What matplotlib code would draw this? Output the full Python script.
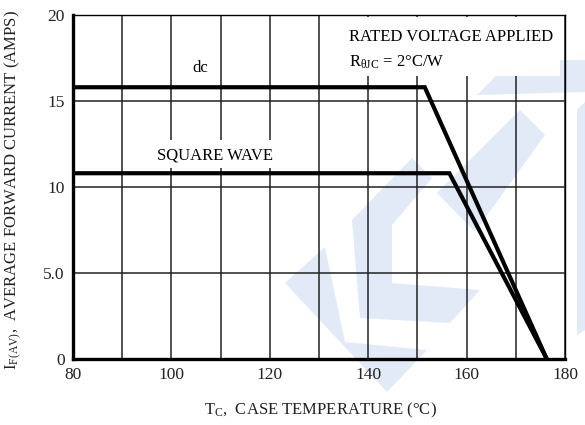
import matplotlib
matplotlib.use("Agg")
import matplotlib.pyplot as plt
from matplotlib.patches import Polygon, Rectangle

# ---- data ----
dc_temp = [80, 151.5, 176.3]
dc_current = [15.8, 15.8, 0]
sq_temp = [80, 156.5, 176.3]
sq_current = [10.8, 10.8, 0]
x_ticks = [80, 100, 120, 140, 160, 180]
y_ticks = [0, 5, 10, 15, 20]
y_tick_labels = ["0", "5.0", "10", "15", "20"]

FONT = "Liberation Serif"
plt.rcParams["font.family"] = [FONT, "DejaVu Serif"]
plt.rcParams["mathtext.fontset"] = "custom"
plt.rcParams["mathtext.rm"] = FONT
plt.rcParams["mathtext.it"] = FONT
plt.rcParams["mathtext.default"] = "rm"

W, H = 585, 425
fig = plt.figure(figsize=(W / 100, H / 100), dpi=100)
fig.patch.set_facecolor("white")

# watermark (figure pixel coords, y from top)
wm = [
    [(285, 283), (325, 247), (345, 342), (427, 350), (387, 392)],
    [(352, 220), (412, 158), (432, 178), (392, 225), (392, 283), (480, 290), (450, 323), (360, 318)],
    [(437, 193), (520, 110), (545, 135), (475, 232)],
    [(477, 95), (512, 60), (585, 60), (585, 92)],
    [(577, 110), (585, 102), (585, 330), (577, 335)],
]
for poly in wm:
    pts = [(x / W, 1 - y / H) for x, y in poly]
    fig.patches.append(Polygon(pts, closed=True, transform=fig.transFigure,
                               facecolor="#e3eaf7", edgecolor="none", zorder=-1))

ax = fig.add_axes([73 / W, 1 - 359 / H, (565 - 73) / W, (359 - 15) / H])
ax.set_facecolor("none")
ax.set_xlim(80, 180)
ax.set_ylim(0, 20)

for x in range(80, 181, 10):
    ax.axvline(x, color="#222222", lw=1.1, zorder=1)
for y in y_ticks:
    ax.axhline(y, color="#222222", lw=1.1, zorder=1)

# white label boxes
ax.add_patch(Rectangle((131.2, 16.45), 179.0 - 131.2, 19.88 - 16.45,
                       facecolor="white", edgecolor="none", zorder=2))
ax.add_patch(Rectangle((97.7, 11.1), 121.1 - 97.7, 12.73 - 11.1,
                       facecolor="white", edgecolor="none", zorder=2))

ax.plot(dc_temp, dc_current, color="black", lw=3.0, solid_joinstyle="miter", zorder=4)
ax.plot(sq_temp, sq_current, color="black", lw=3.0, solid_joinstyle="miter", zorder=4)

ax.set_xticks(x_ticks)
ax.set_yticks(y_ticks)
ax.set_yticklabels(y_tick_labels)
ax.tick_params(length=0, labelsize=12.5, colors="#222222", pad=6)

for s in ["left", "bottom"]:
    ax.spines[s].set_linewidth(2.4)
for s in ["top", "right"]:
    ax.spines[s].set_linewidth(1.0)
for s in ax.spines.values():
    s.set_zorder(5)

ax.text(105.8, 16.9, "dc", fontsize=12, ha="center", va="center", zorder=6)
ax.text(108.9, 11.85, "SQUARE WAVE", fontsize=12, ha="center", va="center", zorder=6)
ax.text(136.1, 18.72, "RATED VOLTAGE APPLIED", fontsize=12, ha="left", va="center", zorder=6)
ax.text(136.1, 17.27, r"R$_{\theta \rm JC}$ = 2°C/W", fontsize=12, ha="left", va="center", zorder=6)

fig.text(320 / W, 1 - 410 / H, r"T$_{\rm C}$,  CASE TEMPERATURE (°C)", fontsize=12,
         ha="center", va="center", color="#222222")
fig.text(13 / W, 1 - 190 / H, r"I$_{\rm F(AV)}$,  AVERAGE FORWARD CURRENT (AMPS)", fontsize=12,
         ha="center", va="center", rotation=90, color="#222222")

fig.savefig("out.png", dpi=100)
